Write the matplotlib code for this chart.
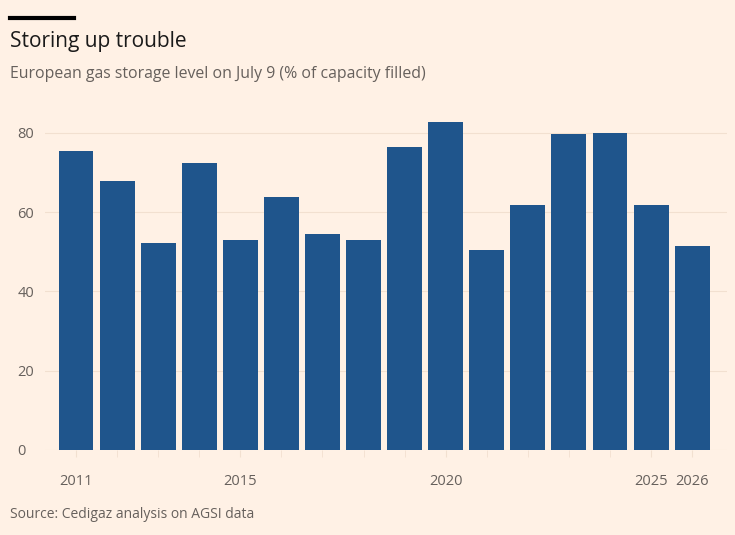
import matplotlib.pyplot as plt

plt.rcParams['font.family'] = ['Open Sans', 'DejaVu Sans']

# data
years = list(range(2011, 2027))
storage = [75.3, 67.9, 52.3, 72.5, 53.0, 63.9, 54.6, 53.0,
           76.3, 82.8, 50.5, 61.9, 79.8, 80.0, 61.9, 51.5]
yticks = [0, 20, 40, 60, 80]
xtick_years = [2011, 2015, 2020, 2025, 2026]

bg = '#fff1e5'
bar_color = '#1f558c'
text_grey = '#66605c'
grid_color = '#f2e0d0'

fig = plt.figure(figsize=(7.35, 5.35), dpi=100, facecolor=bg)
ax = fig.add_axes([0.0612, 0.1589, 0.928, 0.6299], facecolor=bg)

ax.bar(years, storage, width=0.85, color=bar_color, zorder=3)

ax.set_ylim(0, 85)
ax.set_xlim(2010.245, 2026.85)
ax.set_yticks(yticks)
ax.set_xticks(years, minor=True)
ax.set_xticks(xtick_years)
ax.set_xticklabels([str(y) for y in xtick_years])

ax.grid(axis='y', color=grid_color, linewidth=0.8, zorder=0)
for s in ax.spines.values():
    s.set_visible(False)

ax.tick_params(axis='y', length=0, labelsize=10.5, labelcolor=text_grey, pad=20)
for lab in ax.get_yticklabels():
    lab.set_horizontalalignment('left')
ax.tick_params(axis='x', which='both', length=5, color=grid_color,
               labelsize=10.5, labelcolor=text_grey, pad=12)

# black bar above title
fig.add_artist(plt.Line2D([10 / 735, 74 / 735], [1 - 17.5 / 535, 1 - 17.5 / 535],
                          color='black', linewidth=3))

fig.text(10 / 735, 1 - 42 / 535, 'Storing up trouble', fontsize=15,
         color='#1a1a1a', va='center', ha='left')
fig.text(10 / 735, 1 - 74 / 535,
         'European gas storage level on July 9 (% of capacity filled)',
         fontsize=11.4, color=text_grey, va='center', ha='left')
fig.text(10 / 735, 1 - 515 / 535, 'Source: Cedigaz analysis on AGSI data',
         fontsize=10, color=text_grey, va='center', ha='left')

fig.savefig('out.png', dpi=100, facecolor=bg)
